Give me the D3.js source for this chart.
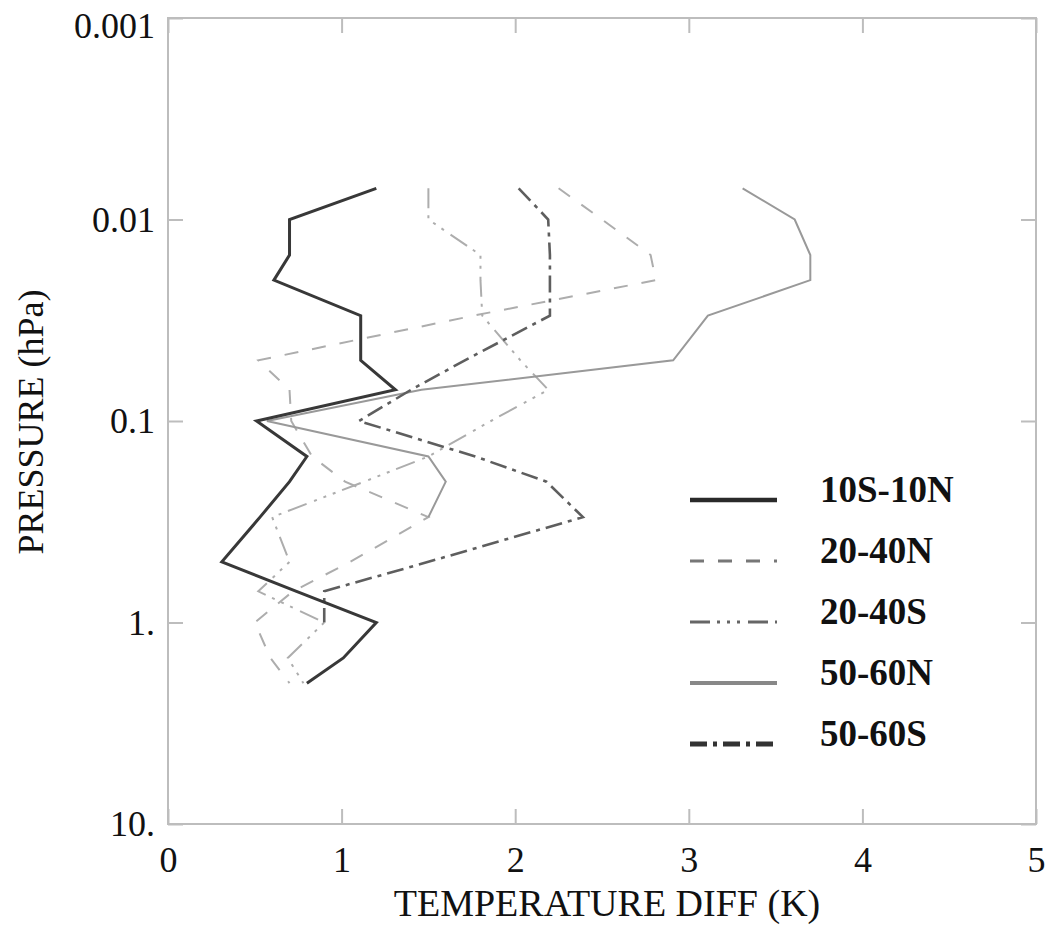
<!DOCTYPE html>
<html>
<head>
<meta charset="utf-8">
<script src="https://cdn.jsdelivr.net/npm/d3@7"></script>
<style>
  body { margin: 0; background: #fff; }
  text { font-family: "Liberation Serif", "DejaVu Serif", serif; fill: #111; }
</style>
</head>
<body>
<div id="chart"></div>
<script>
// pressure levels (hPa) shared by all profiles
var pressure = [0.007, 0.01, 0.015, 0.02, 0.03, 0.05, 0.07, 0.1, 0.15, 0.2, 0.3, 0.5, 0.7, 1, 1.5, 2];

// temperature differences (K), null where the profile stops
var t10S10N = [1.20, 0.70, 0.70, 0.61, 1.11, 1.11, 1.31, 0.51, 0.80, 0.70, 0.53, 0.31, 0.74, 1.20, 1.01, 0.80];
var t2040N  = [2.25, 2.50, 2.78, 2.81, 1.76, 0.52, 0.70, 0.71, 0.83, 1.02, 1.50, 1.05, 0.72, 0.50, 0.59, 0.70];
var t2040S  = [1.50, 1.50, 1.80, 1.80, 1.81, 2.03, 2.19, 1.86, 1.50, 1.13, 0.60, 0.70, 0.52, 0.90, 0.69, 0.78];
var t5060N  = [3.31, 3.61, 3.70, 3.70, 3.11, 2.91, 1.46, 0.57, 1.50, 1.60, 1.50, null, null, null, null, null];
var t5060S  = [2.02, 2.19, 2.20, 2.20, 2.20, 1.71, 1.40, 1.10, 1.77, 2.18, 2.39, 1.50, 0.90, 0.90, null, null];

var seriesNames = ["10S-10N", "20-40N", "20-40S", "50-60N", "50-60S"];
var seriesValues = [t10S10N, t2040N, t2040S, t5060N, t5060S];

var xTicks = [0, 1, 2, 3, 4, 5];
var yTicks = [0.001, 0.01, 0.1, 1, 10];
var yTickLabels = ["0.001", "0.01", "0.1", "1.", "10."];

// line looks, same order as seriesNames
var styles = [
  {color: "#383838", width: 3,   dash: null,               lcolor: "#2a2a2a", lwidth: 4.5},
  {color: "#adadad", width: 2,   dash: "14,14",            lcolor: "#777777", lwidth: 3},
  {color: "#adadad", width: 2,   dash: "20,7,3,7,3,7,3,8", lcolor: "#666666", lwidth: 3},
  {color: "#999999", width: 2,   dash: null,               lcolor: "#888888", lwidth: 4},
  {color: "#5e5e5e", width: 2.6, dash: "17,6,4,6",         lcolor: "#333333", lwidth: 5}
];

var W = 1052, H = 926;
var plotLeft = 168, plotRight = 1036, plotTop = 18, plotBottom = 824;
var tickLen = 15;
var frameColor = "#bdbdbd";

var svg = d3.select("#chart").append("svg")
  .attr("width", W)
  .attr("height", H);

var x = d3.scaleLinear().domain([0, 5]).range([plotLeft, plotRight]);
var y = d3.scaleLog().domain([0.001, 10]).range([plotTop, plotBottom]);

// axes with inward ticks on all four sides
function styleAxis(g) {
  g.select(".domain").remove();
  g.selectAll(".tick line").attr("stroke", frameColor).attr("stroke-width", 2);
}

svg.append("g")
  .attr("transform", "translate(0," + plotBottom + ")")
  .call(d3.axisBottom(x).tickValues(xTicks).tickSize(-tickLen).tickPadding(22).tickFormat(d3.format("d")))
  .call(styleAxis)
  .selectAll("text")
    .style("font-size", "36px")
    .attr("fill", "#111");

svg.append("g")
  .attr("transform", "translate(0," + plotTop + ")")
  .call(d3.axisTop(x).tickValues(xTicks).tickSize(-tickLen).tickFormat(""))
  .call(styleAxis);

var yAxisG = svg.append("g")
  .attr("transform", "translate(" + plotLeft + ",0)")
  .call(d3.axisLeft(y).tickValues(yTicks).tickSize(-tickLen).tickPadding(13)
          .tickFormat(function(d, i) { return yTickLabels[i]; }))
  .call(styleAxis);
yAxisG.selectAll("text")
  .style("font-size", "36px")
  .attr("fill", "#111");
// top label sits a little lower so it is not cut off
yAxisG.selectAll(".tick text")
  .filter(function(d) { return d === yTicks[0]; })
  .attr("y", 8);

svg.append("g")
  .attr("transform", "translate(" + plotRight + ",0)")
  .call(d3.axisRight(y).tickValues(yTicks).tickSize(-tickLen).tickFormat(""))
  .call(styleAxis);

// frame
svg.append("rect")
  .attr("x", plotLeft)
  .attr("y", plotTop)
  .attr("width", plotRight - plotLeft)
  .attr("height", plotBottom - plotTop)
  .attr("fill", "none")
  .attr("stroke", frameColor)
  .attr("stroke-width", 2);

// profiles
var line = d3.line()
  .defined(function(d) { return d.t != null; })
  .x(function(d) { return x(d.t); })
  .y(function(d) { return y(d.p); });

var drawOrder = [2, 1, 3, 4, 0];
drawOrder.forEach(function(k) {
  var pts = pressure.map(function(p, i) { return {p: p, t: seriesValues[k][i]}; });
  svg.append("path")
    .datum(pts)
    .attr("d", line)
    .attr("fill", "none")
    .attr("stroke", styles[k].color)
    .attr("stroke-width", styles[k].width)
    .attr("stroke-dasharray", styles[k].dash)
    .attr("stroke-linejoin", "miter");
});

// legend
var legY = d3.scalePoint().domain(seriesNames).range([500, 744]);
var leg = svg.append("g");
seriesNames.forEach(function(name, k) {
  var ly = legY(name);
  leg.append("line")
    .attr("x1", 690).attr("x2", 777)
    .attr("y1", ly).attr("y2", ly)
    .attr("stroke", styles[k].lcolor)
    .attr("stroke-width", styles[k].lwidth)
    .attr("stroke-dasharray", styles[k].dash);
  leg.append("text")
    .attr("x", 820)
    .attr("y", ly + 2)
    .style("font-size", "37px")
    .style("font-weight", "bold")
    .text(name);
});

// axis titles
svg.append("text")
  .attr("x", 607)
  .attr("y", 916)
  .attr("text-anchor", "middle")
  .style("font-size", "38px")
  .text("TEMPERATURE DIFF (K)");

svg.append("text")
  .attr("transform", "translate(43,422) rotate(-90)")
  .attr("text-anchor", "middle")
  .style("font-size", "36px")
  .text("PRESSURE (hPa)");
</script>
</body>
</html>
